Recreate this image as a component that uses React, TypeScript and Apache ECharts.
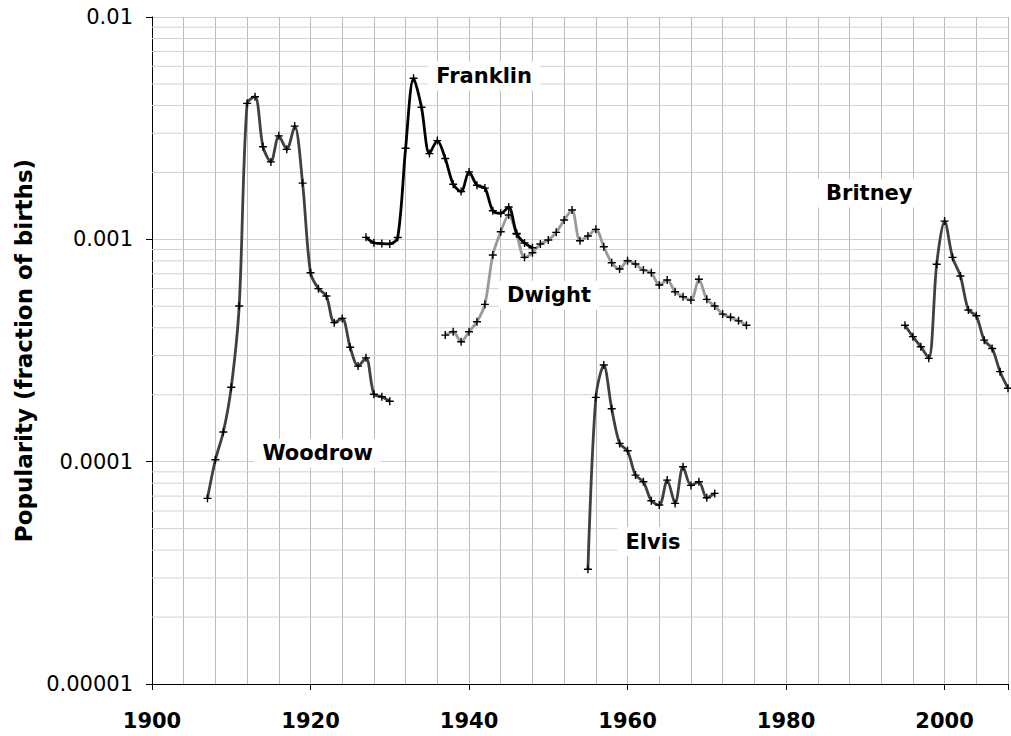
import React, { useEffect, useRef } from "react";
import * as echarts from "echarts";

// ---- data (fraction of births, one value per year) ----
const woodrowStart = 1907;
const woodrow = [6.84e-5, 1.02e-4, 1.36e-4, 2.16e-4, 5.01e-4, 4.09e-3, 4.38e-3, 2.61e-3, 2.23e-3, 2.92e-3, 2.54e-3, 3.23e-3, 1.79e-3, 7.08e-4, 6.0e-4, 5.56e-4, 4.22e-4, 4.41e-4, 3.27e-4, 2.69e-4, 2.93e-4, 2.01e-4, 1.96e-4, 1.87e-4];

const franklinStart = 1927;
const franklin = [1.021e-3, 9.65e-4, 9.57e-4, 9.54e-4, 1.019e-3, 2.57e-3, 5.3e-3, 3.93e-3, 2.43e-3, 2.78e-3, 2.31e-3, 1.77e-3, 1.64e-3, 2.01e-3, 1.75e-3, 1.7e-3, 1.345e-3, 1.309e-3, 1.397e-3, 1.064e-3, 9.62e-4, 9.17e-4];

const dwightStart = 1937;
const dwight = [3.71e-4, 3.84e-4, 3.46e-4, 3.84e-4, 4.26e-4, 5.1e-4, 8.5e-4, 1.082e-3, 1.286e-3, 1.056e-3, 8.3e-4, 8.7e-4, 9.53e-4, 9.93e-4, 1.075e-3, 1.221e-3, 1.354e-3, 9.86e-4, 1.035e-3, 1.109e-3, 9.26e-4, 7.85e-4, 7.35e-4, 8.01e-4, 7.74e-4, 7.27e-4, 7.08e-4, 6.23e-4, 6.56e-4, 5.81e-4, 5.52e-4, 5.33e-4, 6.61e-4, 5.37e-4, 5.01e-4, 4.61e-4, 4.46e-4, 4.3e-4, 4.11e-4];

const elvisStart = 1955;
const elvis = [3.28e-5, 1.947e-4, 2.72e-4, 1.73e-4, 1.208e-4, 1.119e-4, 8.7e-5, 8.12e-5, 6.67e-5, 6.38e-5, 8.26e-5, 6.49e-5, 9.49e-5, 7.82e-5, 8.12e-5, 6.88e-5, 7.2e-5];

const britneyStart = 1995;
const britney = [4.11e-4, 3.65e-4, 3.29e-4, 2.915e-4, 7.72e-4, 1.208e-3, 8.3e-4, 6.84e-4, 4.81e-4, 4.53e-4, 3.52e-4, 3.23e-4, 2.54e-4, 2.14e-4];

// label anchors [year, value]
const labelNames = ["Woodrow", "Franklin", "Dwight", "Elvis", "Britney"];
const labelAnchors: [number, number][] = [
  [1920.9, 1.09e-4],
  [1941.9, 5.43e-3],
  [1950.1, 5.61e-4],
  [1963.2, 4.37e-5],
  [1990.5, 1.615e-3],
];

const xTickLabels = [1900, 1920, 1940, 1960, 1980, 2000];
const yTickLabels = ["0.00001", "0.0001", "0.001", "0.01"];
const yTitle = "Popularity (fraction of births)";

const X_MIN = 1900;
const X_MAX = 2008;
const FONT = "DejaVu Sans";
const PLUS = "path://M3.3,0h1.4v3.3h3.3v1.4h-3.3v3.3h-1.4v-3.3h-3.3v-1.4h3.3z";

function toPoints(start: number, vals: number[]) {
  return vals.map((v, i) => [start + i, v]);
}

export default function App() {
  const ref = useRef<HTMLDivElement>(null);
  useEffect(() => {
    if (!ref.current) return;
    const chart = echarts.init(ref.current, null, { renderer: "svg" });

    // log-scale minor gridlines at 2..9 x each decade
    const minorValues: number[] = [];
    for (let d = -5; d < -2; d++) {
      for (let m = 2; m <= 9; m++) minorValues.push(m * Math.pow(10, d));
    }
    const gridSeries = minorValues.map((v) => ({
      type: "line",
      data: [
        [X_MIN, v],
        [X_MAX, v],
      ],
      symbol: "none",
      showSymbol: false,
      silent: true,
      z: 1,
      lineStyle: { color: "#d2d2d2", width: 1 },
      emphasis: { disabled: true },
    }));

    const mkSeries = (
      name: string,
      start: number,
      vals: number[],
      color: string,
      idx: number,
      z: number
    ) => ({
      name,
      type: "line",
      xAxisIndex: 0,
      yAxisIndex: 0,
      data: toPoints(start, vals),
      smooth: 0.3,
      symbol: PLUS,
      symbolSize: 8,
      showSymbol: true,
      z,
      lineStyle: { color, width: 2.8 },
      itemStyle: { color: "#000", borderWidth: 0 },
      markPoint: {
        silent: true,
        symbol: "rect",
        symbolSize: 0,
        data: [
          {
            coord: labelAnchors[idx],
            label: {
              show: true,
              position: "inside",
              formatter: labelNames[idx],
              fontFamily: FONT,
              fontWeight: "bold",
              fontSize: 21,
              color: "#000",
              backgroundColor: "#fff",
              padding: [4, 8, 4, 8],
            },
          },
        ],
      },
    });

    chart.setOption({
      animation: false,
      backgroundColor: "#fff",
      grid: { left: 152, right: 0, top: 17, bottom: 52, containLabel: false },
      xAxis: [
        {
          type: "value",
          position: "bottom",
          min: X_MIN,
          max: X_MAX,
          interval: 4,
          axisLine: { show: false },
          axisTick: { show: false },
          axisLabel: { show: false },
          splitLine: { show: true, lineStyle: { color: "#bcbcbc", width: 1 } },
        },
        {
          type: "value",
          position: "bottom",
          min: X_MIN,
          max: X_MAX,
          interval: 20,
          axisLine: { show: true, onZero: false, lineStyle: { color: "#000", width: 1 } },
          axisTick: { show: true, inside: false, length: 6, lineStyle: { color: "#000" } },
          axisLabel: {
            show: true,
            margin: 26,
            fontFamily: FONT,
            fontWeight: "bold",
            fontSize: 21,
            color: "#000",
            formatter: (v: number) => (xTickLabels.indexOf(Math.round(v)) >= 0 && Math.abs(v - Math.round(v)) < 1e-6 ? String(Math.round(v)) : ""),
          },
          splitLine: { show: false },
        },
      ],
      yAxis: {
        type: "log",
        logBase: 10,
        min: 1e-5,
        max: 1e-2,
        name: yTitle,
        nameLocation: "middle",
        nameGap: 116,
        nameRotate: 90,
        nameTextStyle: { fontFamily: FONT, fontWeight: "bold", fontSize: 23, color: "#000" },
        axisLine: { show: true, lineStyle: { color: "#000", width: 1 } },
        axisTick: { show: true, length: 6, lineStyle: { color: "#000" } },
        axisLabel: {
          margin: 19,
          fontFamily: FONT,
          fontSize: 21,
          color: "#000",
          formatter: (v: number) => {
            const k = Math.round(Math.log10(v)) + 5;
            return yTickLabels[k] ?? "";
          },
        },
        splitLine: { show: true, lineStyle: { color: "#cfcfcf", width: 1 } },
        minorTick: { show: false },
      },
      series: [
        ...gridSeries,
        mkSeries("Dwight", dwightStart, dwight, "#9a9a9a", 2, 3),
        mkSeries("Woodrow", woodrowStart, woodrow, "#404040", 0, 4),
        mkSeries("Elvis", elvisStart, elvis, "#404040", 3, 4),
        mkSeries("Britney", britneyStart, britney, "#404040", 4, 4),
        mkSeries("Franklin", franklinStart, franklin, "#000000", 1, 5),
      ],
    });
    return () => chart.dispose();
  }, []);
  return (
    <div
      ref={ref}
      style={{ position: "absolute", left: 0, top: 0, width: 1011, height: 736 }}
    />
  );
}
